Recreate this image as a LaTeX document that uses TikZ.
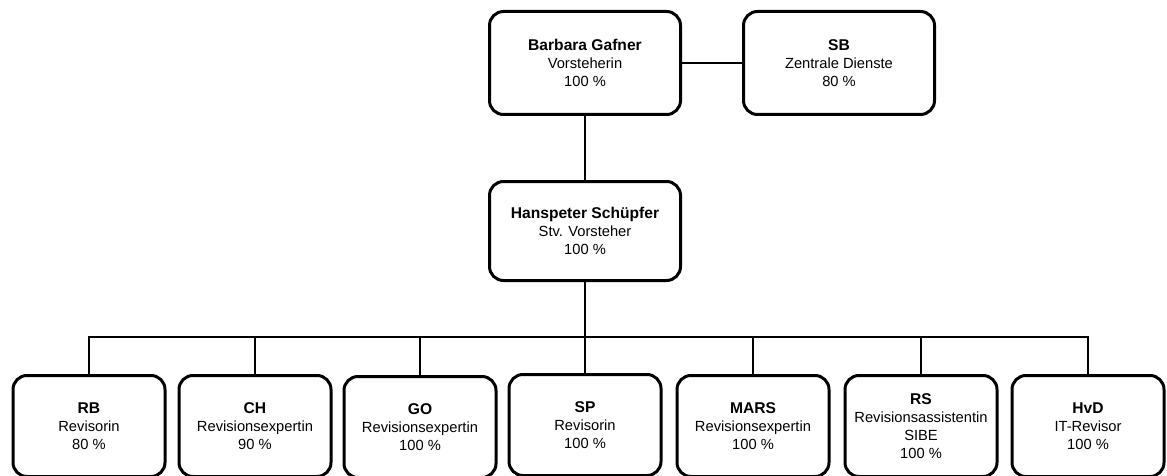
\documentclass[tikz,border=0pt]{standalone}
\usepackage{fontspec}
\setmainfont{Liberation Sans}
\usepackage{tikz}
\newcommand{\kopf}[1]{{\fontsize{15.6}{18}\selectfont\bfseries #1}}

\begin{document}
\begin{tikzpicture}[
      x=1pt, y=-1pt,
      box/.style={draw, line width=3pt, rounded corners=14pt, align=center, font=\fontsize{14.7}{18}\selectfont},
      lead/.style={box, minimum width=191pt, minimum height=103pt},
      staff/.style={box, minimum width=152pt, minimum height=101pt},
      conn/.style={draw, line width=2pt}
    ]
    \useasboundingbox (0,0) rectangle (1167,476);

    % ---- Leitung ----
    \node[lead] (chef) at (585,63)   {\kopf{Barbara Gafner}\\Vorsteherin\\100 \%};
    \node[lead] (sb)   at (839,63)   {\kopf{SB}\\Zentrale Dienste\\80 \%};
    \node[lead, minimum height=99pt] (stv) at (585,231) {\kopf{Hanspeter Schüpfer}\\Stv. Vorsteher\\100 \%};

    \draw[conn] (chef) -- (sb);
    \draw[conn] (chef) -- (stv);

    % ---- Mitarbeitende ----
    \node[staff] (rb)   at (89,426)   {\kopf{RB}\\Revisorin\\80 \%};
    \node[staff] (ch)   at (255,426)  {\kopf{CH}\\Revisionsexpertin\\90 \%};
    \node[staff] (go)   at (420,427)  {\kopf{GO}\\Revisionsexpertin\\100 \%};
    \node[staff] (sp)   at (585,425)  {\kopf{SP}\\Revisorin\\100 \%};
    \node[staff] (mars) at (753,426)  {\kopf{MARS}\\Revisionsexpertin\\100 \%};
    \node[staff] (rs)   at (921,426)  {\kopf{RS}\\Revisionsassistentin\\SIBE\\100 \%};
    \node[staff] (hvd)  at (1088,426) {\kopf{HvD}\\IT-Revisor\\100 \%};

    % ---- Verbindungen ----
    \coordinate (bus) at (585,337);
    \draw[conn] (stv.south) -- (bus);
    \foreach \n in {rb,ch,go,sp,mars,rs,hvd}
      \draw[conn] (bus) -| (\n.north);

    \end{tikzpicture}
\end{document}
